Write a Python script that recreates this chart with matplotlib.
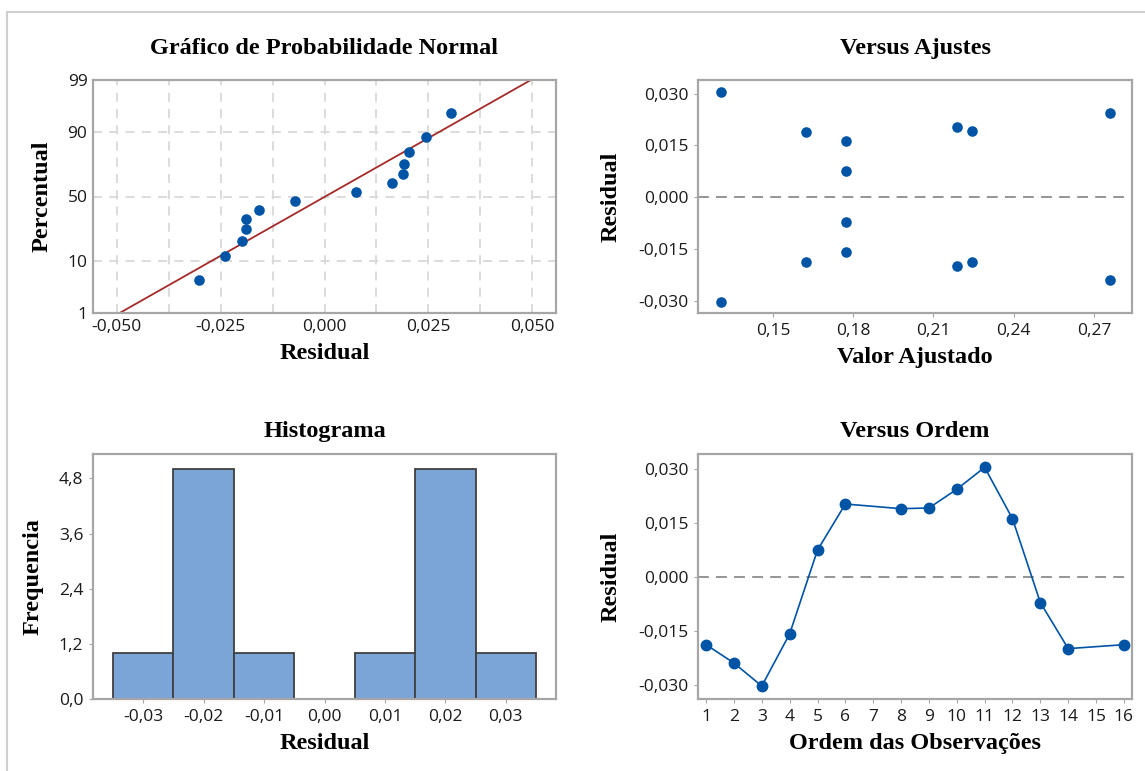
import numpy as np
import matplotlib
matplotlib.use('Agg')
import matplotlib.pyplot as plt
from matplotlib.ticker import FuncFormatter
from matplotlib.patches import Rectangle
from statistics import NormalDist

# Observation order (7 and 15 are missing), fitted values and residuals
ordem = [1, 2, 3, 4, 5, 6, 8, 9, 10, 11, 12, 13, 14, 16]
ajustes = [0.1623, 0.2760, 0.1307, 0.1773, 0.1773, 0.2189, 0.1623,
           0.2245, 0.2760, 0.1307, 0.1773, 0.1773, 0.2189, 0.2245]
residuos = [-0.0188, -0.0239, -0.0303, -0.0158, 0.0075, 0.0203, 0.0190,
            0.0192, 0.0244, 0.0305, 0.0162, -0.0071, -0.0199, -0.0188]

prob_ticks = [1, 10, 50, 90, 99]
hist_bins = [-0.035, -0.025, -0.015, -0.005, 0.005, 0.015, 0.025, 0.035]

azul = '#0054A6'
barra = '#7BA4D7'
moldura = '#A6A6A6'
texto_tick = '#1A1A1A'

serif = ['Liberation Serif', 'DejaVu Serif']
sans = ['Open Sans', 'DejaVu Sans']
plt.rcParams['font.family'] = sans

def virgula(fmt):
    return FuncFormatter(lambda v, pos: (fmt % v).replace('.', ','))

def estilo(ax, titulo, xlabel, ylabel, pad_t, pad_x, pad_y):
    ax.set_title(titulo, family=serif, fontweight='bold', fontsize=17.5, pad=pad_t)
    ax.set_xlabel(xlabel, family=serif, fontweight='bold', fontsize=17.5, labelpad=pad_x)
    ax.set_ylabel(ylabel, family=serif, fontweight='bold', fontsize=17.5, labelpad=pad_y)
    for s in ax.spines.values():
        s.set_color(moldura)
        s.set_linewidth(1.6)
    ax.tick_params(length=3, color=moldura, labelsize=12.5, labelcolor=texto_tick, pad=4)

fig = plt.figure(figsize=(11.45, 7.71), dpi=100)
W, H = 1145.0, 771.0

def eixo(l, t, r, b):
    return fig.add_axes([l / W, 1 - b / H, (r - l) / W, (b - t) / H])

ax1 = eixo(93, 80, 556, 313)
ax2 = eixo(698, 80, 1132, 313)
ax3 = eixo(93, 454, 556, 699)
ax4 = eixo(698, 454, 1132, 699)

# Normal probability plot
nd = NormalDist()
r = np.sort(np.array(residuos))
n = len(r)
pct = [(i + 1 - 0.3) / (n + 0.4) for i in range(n)]
z = [nd.inv_cdf(p) for p in pct]
mu, sd = r.mean(), r.std(ddof=1)
zl = np.array([nd.inv_cdf(0.01), nd.inv_cdf(0.99)])
ax1.plot(mu + sd * zl, zl, color='#A52A2A', lw=1.3, zorder=2)
ax1.scatter(r, z, s=58, color=azul, zorder=3, linewidths=0)
ax1.set_xlim(-0.0557, 0.0557)
ax1.set_ylim(zl[0], zl[1])
ax1.set_xticks([-0.05, -0.025, 0, 0.025, 0.05])
ax1.set_xticks(np.arange(-0.05, 0.051, 0.0125), minor=True)
ax1.set_yticks([nd.inv_cdf(p / 100) for p in prob_ticks])
ax1.set_yticklabels([str(p) for p in prob_ticks])
ax1.xaxis.set_major_formatter(virgula('%.3f'))
ax1.grid(True, which='both', axis='x', color='#D9D9D9', lw=1.3, ls=(0, (5, 4)))
ax1.grid(True, axis='y', color='#D9D9D9', lw=1.3, ls=(0, (5, 4)))
ax1.tick_params(which='minor', length=0)
estilo(ax1, 'Gráfico de Probabilidade Normal', 'Residual', 'Percentual', 19, 6, 11)
ax1.tick_params(length=0)

# Residuals versus fits
ax2.axhline(0, color='#8C8C8C', lw=1.3, ls=(0, (6, 4)), zorder=1)
ax2.scatter(ajustes, residuos, s=58, color=azul, zorder=3, linewidths=0)
ax2.set_xlim(0.122, 0.2842)
ax2.set_ylim(-0.0336, 0.0340)
ax2.set_xticks([0.15, 0.18, 0.21, 0.24, 0.27])
ax2.set_yticks([-0.03, -0.015, 0, 0.015, 0.03])
ax2.xaxis.set_major_formatter(virgula('%.2f'))
ax2.yaxis.set_major_formatter(virgula('%.3f'))
estilo(ax2, 'Versus Ajustes', 'Valor Ajustado', 'Residual', 19, 6, 12)

# Histogram of residuals
cont, bordas = np.histogram(residuos, bins=hist_bins)
ax3.bar(bordas[:-1], cont, width=np.diff(bordas), align='edge',
        color=barra, edgecolor='#404040', lw=1.3)
ax3.set_xlim(-0.0383, 0.0383)
ax3.set_ylim(0, 5.33)
ax3.set_xticks([-0.03, -0.02, -0.01, 0, 0.01, 0.02, 0.03])
ax3.set_yticks([0, 1.2, 2.4, 3.6, 4.8])
ax3.xaxis.set_major_formatter(virgula('%.2f'))
ax3.yaxis.set_major_formatter(virgula('%.1f'))
estilo(ax3, 'Histograma', 'Residual', 'Frequencia', 12, 6, 11)

# Residuals versus observation order
ax4.axhline(0, color='#8C8C8C', lw=1.3, ls=(0, (6, 4)), zorder=1)
ax4.plot(ordem, residuos, color=azul, lw=1.2, marker='o', ms=7.5, zorder=3)
ax4.set_xlim(0.71, 16.29)
ax4.set_ylim(-0.0339, 0.0342)
ax4.set_xticks(range(1, 17))
ax4.set_yticks([-0.03, -0.015, 0, 0.015, 0.03])
ax4.yaxis.set_major_formatter(virgula('%.3f'))
estilo(ax4, 'Versus Ordem', 'Ordem das Observações', 'Residual', 12, 6, 12)

# light frame around the whole panel
fig.add_artist(Rectangle((7 / W, -0.1), 1.2, 1.1 - 12 / H, transform=fig.transFigure,
                         fill=False, ec='#CFCFCF', lw=1.5))

fig.savefig('out.png', dpi=100)
